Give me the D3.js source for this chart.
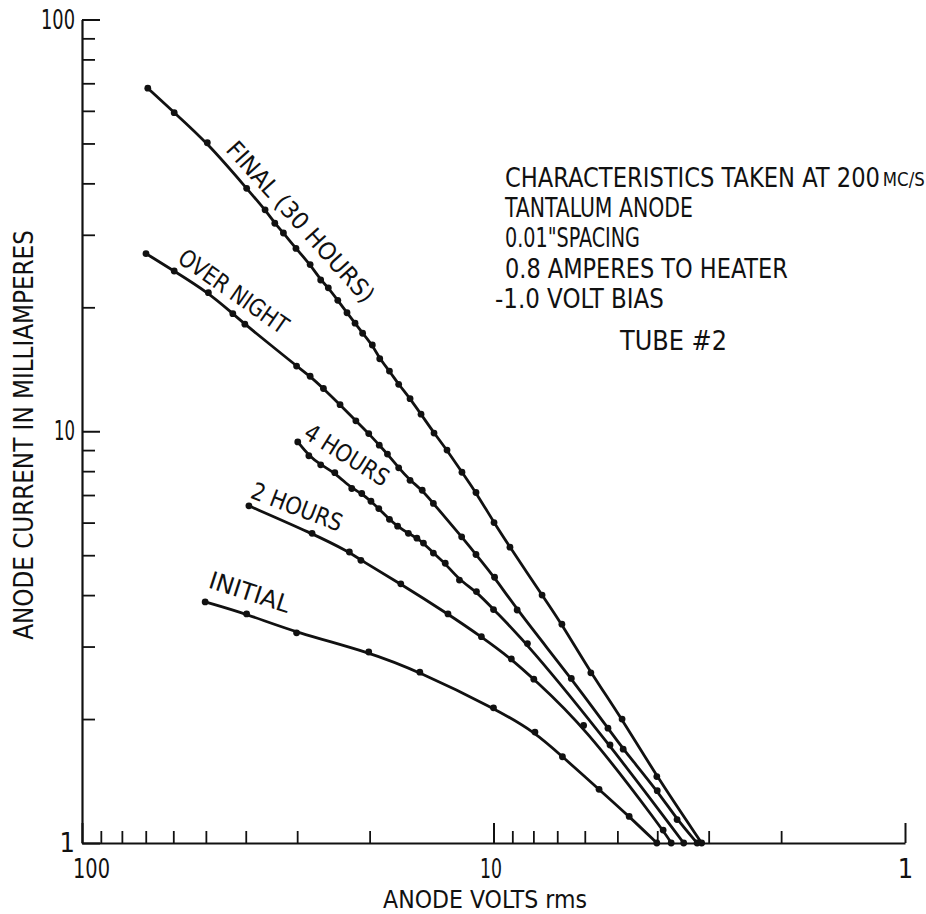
<!DOCTYPE html>
<html>
<head>
<meta charset="utf-8">
<script src="https://cdn.jsdelivr.net/npm/d3@7/dist/d3.min.js"></script>
<style>
html,body{margin:0;padding:0;background:#fff;}
svg{display:block;background:#fff;}
text{font-family:"DejaVu Sans Condensed","DejaVu Sans",sans-serif;font-stretch:condensed;fill:#111;}
</style>
</head>
<body>
<svg id="chart" width="926" height="914"></svg>
<script>
// ---------- data (anode volts rms, anode current mA) ----------
const seriesNames = ["FINAL (30 HOURS)", "OVER NIGHT", "4 HOURS", "2 HOURS", "INITIAL"];

const finalVolts   = [69.2, 59.7, 49.6, 39.8, 35.9, 34.0, 32.4, 30.2, 27.9, 26.3, 25.2, 23.9, 22.7, 21.7, 20.8, 19.7, 18.9, 17.9, 17.0, 15.95, 15.0, 13.95, 12.97, 11.93, 11.03, 9.97, 9.12, 7.62, 6.82, 5.80, 4.87, 4.01, 3.12];
const finalCurrent = [68.1, 59.4, 50.2, 38.9, 34.5, 32.0, 30.3, 27.8, 25.4, 23.3, 22.3, 20.8, 19.4, 18.3, 17.3, 16.2, 15.0, 14.0, 13.0, 12.0, 11.0, 9.9, 9.0, 7.95, 7.1, 6.0, 5.23, 4.0, 3.4, 2.59, 2.0, 1.45, 1.0];

const overnightVolts   = [69.9, 59.7, 49.3, 43.0, 40.2, 30.1, 27.9, 25.9, 23.6, 21.6, 20.1, 18.95, 18.1, 17.0, 15.95, 14.9, 14.0, 11.95, 11.03, 9.94, 8.76, 6.47, 5.27, 4.84, 4.0, 3.58, 3.2];
const overnightCurrent = [27.0, 24.5, 21.7, 19.3, 18.2, 14.4, 13.6, 12.7, 11.6, 10.6, 9.87, 9.25, 8.8, 8.15, 7.6, 7.19, 6.68, 5.54, 5.02, 4.42, 3.68, 2.51, 1.90, 1.69, 1.34, 1.14, 1.0];

const fourHourVolts   = [29.9, 28.1, 26.3, 24.3, 22.1, 20.9, 19.85, 19.0, 17.9, 17.1, 16.1, 15.35, 14.8, 14.0, 13.1, 12.1, 11.0, 10.0, 8.27, 5.21, 3.45];
const fourHourCurrent = [9.42, 8.72, 8.29, 7.93, 7.26, 7.06, 6.76, 6.49, 6.11, 5.88, 5.65, 5.5, 5.35, 5.06, 4.78, 4.35, 4.08, 3.69, 3.05, 1.73, 1.0];

const twoHourVolts   = [39.3, 27.6, 22.4, 21.0, 16.8, 12.9, 10.7, 9.05, 7.98, 6.04, 3.87, 3.7];
const twoHourCurrent = [6.59, 5.65, 5.09, 4.86, 4.26, 3.60, 3.17, 2.80, 2.50, 1.93, 1.075, 1.0];

const initialVolts   = [50.2, 39.8, 30.1, 20.1, 15.1, 10.0, 7.93, 6.80, 5.54, 4.68, 4.01];
const initialCurrent = [3.85, 3.60, 3.24, 2.91, 2.60, 2.13, 1.86, 1.62, 1.35, 1.16, 1.0];

// tick values / labels
const xMajorTicks = [100, 10, 1];
const xMinorTicks = [90, 80, 70, 60, 50, 40, 30, 20, 9, 8, 7, 6, 5, 4, 3, 2];
const yMajorTicks = [100, 10, 1];
const yMinorTicks = [90, 80, 70, 60, 50, 40, 30, 20, 9, 8, 7, 6, 5, 4, 3, 2];

const xTitle = "ANODE VOLTS rms";
const yTitle = "ANODE CURRENT IN MILLIAMPERES";
const noteHead = "CHARACTERISTICS  TAKEN  AT 200";
const noteUnit = "MC/S";
const noteLines = ["TANTALUM  ANODE", "0.01\"SPACING", "0.8  AMPERES TO HEATER", "-1.0 VOLT BIAS"];
const tubeLabel = "TUBE  #2";

// ---------- layout ----------
const svg = d3.select("#chart");
const ink = "#111";

const x = d3.scaleLog().domain([100, 1]).range([82, 905]);
const y = d3.scaleLog().domain([1, 100]).range([843, 19.5]);

// place a text at (tx,ty), optional rotation, squeezed horizontally to a target width
function fitText(sel, tx, ty, angle, width) {
  const w = sel.node().getComputedTextLength();
  const s = w > 0 ? width / w : 1;
  sel.attr("transform", `translate(${tx},${ty}) rotate(${angle}) scale(${s},1)`);
  return sel;
}

// x axis: minor ticks
svg.append("g")
  .attr("transform", `translate(0,${y(1)})`)
  .attr("color", ink)
  .call(d3.axisBottom(x).tickValues(xMinorTicks).tickSize(-12).tickSizeOuter(0).tickFormat(""))
  .call(g => g.select(".domain").remove())
  .call(g => g.selectAll(".tick line").attr("stroke-width", 1.8));

// x axis: major ticks + labels + domain
const gx = svg.append("g")
  .attr("transform", `translate(0,${y(1)})`)
  .attr("color", ink)
  .call(d3.axisBottom(x).tickValues(xMajorTicks).tickSize(-20).tickSizeOuter(0).tickPadding(16).tickFormat(d3.format("d")));
gx.select(".domain").attr("stroke-width", 2.2);
gx.selectAll(".tick line").attr("stroke-width", 2);
gx.selectAll(".tick text")
  .style("font-size", "27px")
  .attr("dx", d => d === 100 ? 9 : (d === 10 ? -3 : 0))
  .each(function(d){ if (d === 100) d3.select(this).attr("textLength", 37).attr("lengthAdjust", "spacingAndGlyphs");
                     if (d === 10) d3.select(this).attr("textLength", 22).attr("lengthAdjust", "spacingAndGlyphs"); });

// y axis: minor ticks
svg.append("g")
  .attr("transform", `translate(${x(100)},0)`)
  .attr("color", ink)
  .call(d3.axisLeft(y).tickValues(yMinorTicks).tickSize(-13).tickSizeOuter(0).tickFormat(""))
  .call(g => g.select(".domain").remove())
  .call(g => g.selectAll(".tick line").attr("stroke-width", 1.8));

// y axis: major ticks + labels + domain
const gy = svg.append("g")
  .attr("transform", `translate(${x(100)},0)`)
  .attr("color", ink)
  .call(d3.axisLeft(y).tickValues(yMajorTicks).tickSize(-18).tickSizeOuter(0).tickPadding(7).tickFormat(d3.format("d")));
gy.select(".domain").attr("stroke-width", 2.2);
gy.selectAll(".tick line").attr("stroke-width", 2);
gy.selectAll(".tick text")
  .style("font-size", "27px")
  .each(function(d){ if (d === 100) d3.select(this).attr("textLength", 34).attr("lengthAdjust", "spacingAndGlyphs");
                     if (d === 10) d3.select(this).attr("textLength", 21).attr("lengthAdjust", "spacingAndGlyphs"); });

// axis titles
fitText(svg.append("text").attr("text-anchor", "middle").style("font-size", "25px").text(xTitle),
        485, 908, 0, 204);
fitText(svg.append("text").attr("text-anchor", "middle").style("font-size", "26px").text(yTitle),
        33, 435, -90, 410);

// ---------- curves ----------
const series = [
  { name: seriesNames[0], v: finalVolts,     i: finalCurrent },
  { name: seriesNames[1], v: overnightVolts, i: overnightCurrent },
  { name: seriesNames[2], v: fourHourVolts,  i: fourHourCurrent },
  { name: seriesNames[3], v: twoHourVolts,   i: twoHourCurrent },
  { name: seriesNames[4], v: initialVolts,   i: initialCurrent }
];

const line = d3.line()
  .x(d => x(d.v))
  .y(d => y(d.i))
  .curve(d3.curveBasis);

const gCurves = svg.append("g");
series.forEach(s => {
  const pts = s.v.map((v, k) => ({ v: v, i: s.i[k] }));
  gCurves.append("path")
    .attr("d", line(pts))
    .attr("fill", "none")
    .attr("stroke", ink)
    .attr("stroke-width", 2.8)
    .attr("stroke-linejoin", "round")
    .attr("stroke-linecap", "round");
  gCurves.append("g").selectAll("circle")
    .data(pts)
    .join("circle")
    .attr("cx", d => x(d.v))
    .attr("cy", d => y(d.i))
    .attr("r", 3.4)
    .attr("fill", ink);
});

// curve labels (placed in data units, rotated along the curve)
const labelLayout = [
  { v: 29.4, i: 32.3, angle: 48, len: 208 },
  { v: 42.8, i: 21.9, angle: 35, len: 128 },
  { v: 22.7, i: 8.77, angle: 32, len: 95 },
  { v: 30.0, i: 6.56, angle: 21, len: 96 },
  { v: 39.1, i: 4.07, angle: 18, len: 84 }
];
series.forEach((s, k) => {
  const L = labelLayout[k];
  const t = svg.append("text")
    .attr("text-anchor", "middle")
    .attr("dy", "0.36em")
    .style("font-size", "24px")
    .text(s.name);
  fitText(t, x(L.v), y(L.i), L.angle, L.len);
});

// ---------- notes block ----------
const head = svg.append("text").style("font-size", "26px");
head.append("tspan").text(noteHead);
head.append("tspan").attr("dx", 3).attr("dy", -1).style("font-size", "19px").text(noteUnit);
fitText(head, 505, 187, 0, 417);

const noteX = [505, 505, 505, 495];
const noteY = [217, 247, 278, 308];
const noteW = [188, 135, 283, 169];
noteLines.forEach((t, k) => {
  fitText(svg.append("text").style("font-size", "26px").text(t), noteX[k], noteY[k], 0, noteW[k]);
});
fitText(svg.append("text").style("font-size", "26px").text(tubeLabel), 620, 350, 0, 107);
</script>
</body>
</html>
